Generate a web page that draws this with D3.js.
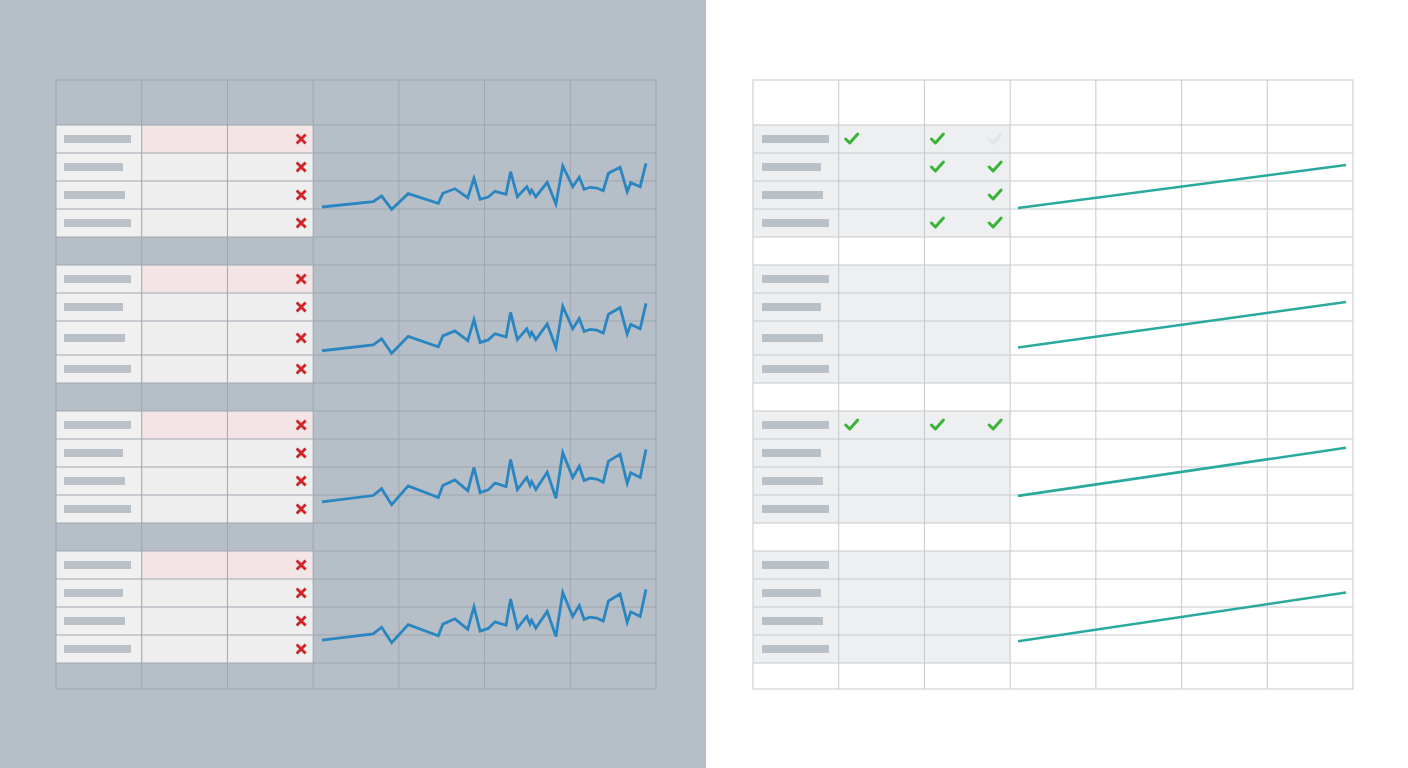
<!DOCTYPE html>
<html>
<head>
<meta charset="utf-8">
<script src="https://cdn.jsdelivr.net/npm/d3@7"></script>
<style>
  html, body { margin: 0; padding: 0; background: #fff; }
  svg { display: block; }
</style>
</head>
<body>
<div id="chart"></div>
<script>
// data
var groups = ["G1", "G2", "G3", "G4"];
var labelLen = [10, 8.8, 9.1, 10];           // placeholder label lengths per row
var sparkT = [0, 15.8, 18.4, 21.5, 26.6, 35.9, 37.3, 41.0, 45.0, 46.9, 48.8, 51.3, 53.4,
  56.8, 58.2, 60.3, 63.2, 64.2, 64.7, 66.0, 69.5, 72.2, 74.3, 77.4, 79.4, 80.9, 82.7,
  84.8, 86.8, 88.4, 92.0, 94.2, 95.3, 98.2, 100];
var sparkV = [3, 8.3, 14, 0.7, 16.3, 6.7, 16.7, 21.3, 12.3, 31.7, 10.7, 13, 18.7, 15.7,
  38.3, 13.3, 23.3, 16.7, 20, 13.3, 27.7, 6, 44, 23.3, 32.7, 20.7, 22.7, 22, 19.3,
  36.7, 42.7, 18.3, 27.3, 23.3, 46.7];
var trendStart = [2, 6, 8, 2];
var trendEnd = [45, 48, 48, 44];
// checks: 1 = tick, 0.5 = faint tick, 0 = none; slots: col2, col3 left, col3 right
var checks = [
  [[1, 1, 0.5], [0, 1, 1], [0, 0, 1], [0, 1, 1]],
  [[0, 0, 0], [0, 0, 0], [0, 0, 0], [0, 0, 0]],
  [[1, 1, 1], [0, 0, 0], [0, 0, 0], [0, 0, 0]],
  [[0, 0, 0], [0, 0, 0], [0, 0, 0], [0, 0, 0]]
];

// layout
var W = 1408, H = 768;
var gridW = 600, gridTop = 80;
var headerH = 45, gapH = 28, bottomH = 26;
var groupRowH = [[28, 28, 28, 28], [28, 28, 34, 28], [28, 28, 28, 28], [28, 28, 28, 28]];
var sparkBottom = [85, 89, 94.5, 92.5];   // offset from group top
var sparkTop = 38;

// rows
var rows = [];
var y = gridTop;
rows.push({y: y, h: headerH, type: "header"});
y += headerH;
var groupTops = [];
groups.forEach(function (g, gi) {
  groupTops.push(y);
  groupRowH[gi].forEach(function (h, ri) {
    rows.push({y: y, h: h, type: "data", g: gi, r: ri});
    y += h;
  });
  rows.push({y: y, h: gi < groups.length - 1 ? gapH : bottomH, type: "gap"});
  y += gi < groups.length - 1 ? gapH : bottomH;
});
var gridBottom = y;

var svg = d3.select("#chart").append("svg")
  .attr("width", W)
  .attr("height", H);

svg.append("rect").attr("x", 0).attr("y", 0).attr("width", 706).attr("height", H)
  .attr("fill", "#b6bec7");
svg.append("rect").attr("x", 706).attr("y", 0).attr("width", W - 706).attr("height", H)
  .attr("fill", "#ffffff");

var valueY = d3.scaleLinear().domain([0, 47]);
var lenX = d3.scaleLinear().domain([0, 10]).range([0, 67]);

function drawPanel(x0, opts) {
  var g = svg.append("g");
  var col = d3.scaleLinear().domain([0, 7]).range([x0, x0 + gridW]);
  var cw = col(1) - col(0);

  // cell fills
  rows.filter(function (d) { return d.type === "data"; }).forEach(function (d) {
    [0, 1, 2].forEach(function (c) {
      var fill = opts.cellFill;
      if (opts.pink && d.r === 0 && c > 0) fill = "#f3e5e6";
      if (opts.pink && c === 0) fill = "#f0f0f0";
      g.append("rect")
        .attr("x", col(c)).attr("y", d.y)
        .attr("width", cw).attr("height", d.h)
        .attr("fill", fill);
    });
    // placeholder label bar
    g.append("rect")
      .attr("x", col(0) + opts.barPad)
      .attr("y", d.y + d.h / 2 - 4)
      .attr("width", lenX(labelLen[d.r]))
      .attr("height", 8)
      .attr("fill", "#b9c0c8");
  });

  // grid lines
  rows.slice(1).forEach(function (d) {
    g.append("line")
      .attr("x1", x0).attr("x2", x0 + gridW)
      .attr("y1", d.y).attr("y2", d.y)
      .attr("stroke", opts.gridColor).attr("stroke-width", 1);
  });
  d3.range(1, 7).forEach(function (c) {
    g.append("line")
      .attr("x1", col(c)).attr("x2", col(c))
      .attr("y1", gridTop).attr("y2", gridBottom)
      .attr("stroke", opts.gridColor).attr("stroke-width", 1);
  });
  g.append("rect")
    .attr("x", x0).attr("y", gridTop)
    .attr("width", gridW).attr("height", gridBottom - gridTop)
    .attr("fill", "none").attr("stroke", opts.gridColor).attr("stroke-width", 1);

  return {g: g, col: col, cw: cw};
}

// left panel
var left = drawPanel(56, {cellFill: "#efeeee", gridColor: "#9ea7b0", pink: true, barPad: 8});
var sparkX = d3.scaleLinear().domain([0, 100]).range([322, 646]);
var sparkData = sparkT.map(function (t, i) { return {t: t, v: sparkV[i]}; });

rows.filter(function (d) { return d.type === "data"; }).forEach(function (d) {
  var cx = left.col(3) - 12, cy = d.y + d.h / 2;
  left.g.append("path")
    .attr("d", "M" + (cx - 4.5) + "," + (cy - 4.5) + "L" + (cx + 4.5) + "," + (cy + 4.5) +
      "M" + (cx + 4.5) + "," + (cy - 4.5) + "L" + (cx - 4.5) + "," + (cy + 4.5))
    .attr("stroke", "#d0262b").attr("stroke-width", 2.9).attr("fill", "none");
});

groups.forEach(function (gname, gi) {
  var ys = valueY.copy().range([groupTops[gi] + sparkBottom[gi], groupTops[gi] + sparkTop]);
  var line = d3.line()
    .x(function (d) { return sparkX(d.t); })
    .y(function (d) { return ys(d.v); });
  left.g.append("path")
    .datum(sparkData)
    .attr("d", line)
    .attr("fill", "none")
    .attr("stroke", "#2a86c0")
    .attr("stroke-width", 2.8)
    .attr("stroke-linejoin", "miter");
});

// right panel
var right = drawPanel(753, {cellFill: "#eeeff0", gridColor: "#c7c9cb", pink: false, barPad: 9});
var trendX = d3.scaleLinear().domain([0, 1]).range([1018, 1346]);
var slotX = [right.col(1) + 13, right.col(2) + 13, right.col(3) - 15];

rows.filter(function (d) { return d.type === "data"; }).forEach(function (d) {
  checks[d.g][d.r].forEach(function (v, s) {
    if (!v) return;
    var cx = slotX[s], cy = d.y + d.h / 2;
    right.g.append("path")
      .attr("d", "M" + (cx - 6) + "," + (cy) + "L" + (cx - 2) + "," + (cy + 4) +
        "L" + (cx + 6) + "," + (cy - 5))
      .attr("fill", "none")
      .attr("stroke", v === 1 ? "#3bb338" : "#e2e4e6")
      .attr("stroke-width", 3)
      .attr("stroke-linecap", "round")
      .attr("stroke-linejoin", "round");
  });
});

groups.forEach(function (gname, gi) {
  var ys = valueY.copy().range([groupTops[gi] + sparkBottom[gi], groupTops[gi] + sparkTop]);
  right.g.append("path")
    .datum([{t: 0, v: trendStart[gi]}, {t: 1, v: trendEnd[gi]}])
    .attr("d", d3.line().x(function (d) { return trendX(d.t); }).y(function (d) { return ys(d.v); }))
    .attr("fill", "none")
    .attr("stroke", "#2aaa9c")
    .attr("stroke-width", 2.6);
});
</script>
</body>
</html>
